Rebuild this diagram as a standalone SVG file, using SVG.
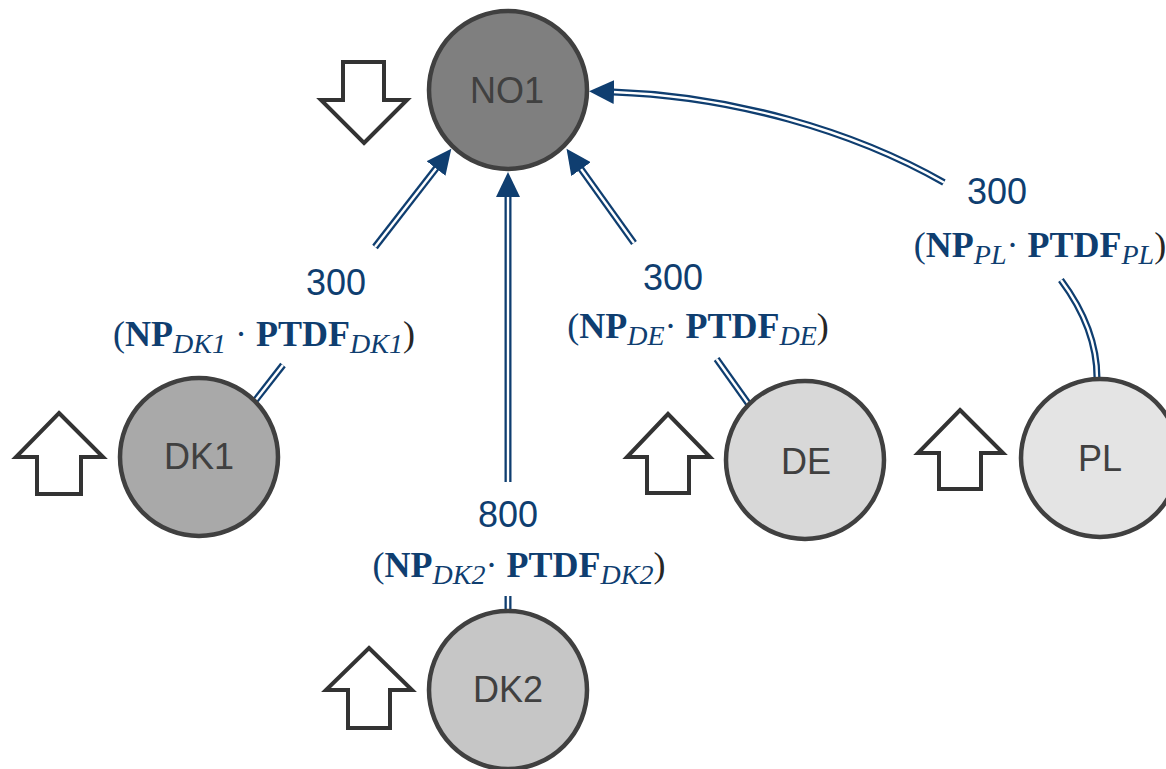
<svg xmlns="http://www.w3.org/2000/svg" width="1166" height="769" viewBox="0 0 1166 769">
  <style>
    .rail { fill: none; stroke: #0f3e70; stroke-width: 7; }
    .gap { fill: none; stroke: #ffffff; stroke-width: 2.4; }
    .node { stroke: #404040; stroke-width: 4.5; }
    .name { font-family: "Liberation Sans", Arial, sans-serif; font-size: 36px; fill: #404040; text-anchor: middle; }
    .num { font-family: "Liberation Sans", Arial, sans-serif; font-size: 36px; fill: #0f3e70; text-anchor: middle; }
    .f { font-family: "Liberation Serif", "Times New Roman", serif; font-size: 36px; fill: #0f3e70; text-anchor: middle; }
    .b { font-weight: bold; }
    .s { font-style: italic; font-size: 28px; }
    .cp { fill: #262626; }
    .blk { fill: #ffffff; stroke: #333333; stroke-width: 4; stroke-linejoin: miter; }
  </style>
  <defs>
    <marker id="ah" markerUnits="userSpaceOnUse" viewBox="0 0 26 24" markerWidth="26" markerHeight="24" refX="1" refY="12" orient="auto">
      <path d="M0,0 L25,12 L0,24 Z" fill="#0f3e70"/>
    </marker>
  </defs>

  <!-- flows towards NO1 -->
  <g id="connectors">
    <g id="e-dk1">
      <path class="rail" d="M244,415 L283,365"/>
      <path class="gap" d="M244,415 L283,365"/>
      <path class="rail" d="M375,247 L436.6,167.7"/>
      <path class="gap" d="M375,247 L436.6,167.7" marker-end="url(#ah)"/>
    </g>
    <g id="e-dk2">
      <path class="rail" d="M508,596 L508,620"/>
      <path class="gap" d="M508,596 L508,620"/>
      <path class="rail" d="M508,482 L508,196"/>
      <path class="gap" d="M508,482 L508,196" marker-end="url(#ah)"/>
    </g>
    <g id="e-de">
      <path class="rail" d="M716.6,359 L760,420"/>
      <path class="gap" d="M716.6,359 L760,420"/>
      <path class="rail" d="M634,243 L580.5,168.3"/>
      <path class="gap" d="M634,243 L580.5,168.3" marker-end="url(#ah)"/>
    </g>
    <g id="e-pl">
      <path class="rail" d="M1060.9,280 C1083.9,310.9 1097,344 1097,378 L1097,392"/>
      <path class="gap" d="M1060.9,280 C1083.9,310.9 1097,344 1097,378 L1097,392"/>
      <path class="rail" d="M943.9,182.5 C852.5,130.5 731.5,96 613,92"/>
      <path class="gap" d="M943.9,182.5 C852.5,130.5 731.5,96 613,92" marker-end="url(#ah)"/>
    </g>
  </g>

  <!-- flow labels -->
  <g id="labels">
    <text class="num" x="336" y="295">300</text>
    <text class="f" x="264" y="346">(<tspan class="b">NP</tspan><tspan class="s" dy="7">DK1</tspan><tspan dy="-7"> · </tspan><tspan class="b">PTDF</tspan><tspan class="s" dy="7">DK1</tspan><tspan class="cp" dy="-7">)</tspan></text>

    <text class="num" x="508" y="527">800</text>
    <text class="f" x="519" y="577">(<tspan class="b">NP</tspan><tspan class="s" dy="7">DK2</tspan><tspan dy="-7">· </tspan><tspan class="b">PTDF</tspan><tspan class="s" dy="7">DK2</tspan><tspan class="cp" dy="-7">)</tspan></text>

    <text class="num" x="673" y="290">300</text>
    <text class="f" x="698" y="338">(<tspan class="b">NP</tspan><tspan class="s" dy="7">DE</tspan><tspan dy="-7">· </tspan><tspan class="b">PTDF</tspan><tspan class="s" dy="7">DE</tspan><tspan class="cp" dy="-7">)</tspan></text>

    <text class="num" x="997" y="204">300</text>
    <text class="f" x="1040" y="257">(<tspan class="b">NP</tspan><tspan class="s" dy="7">PL</tspan><tspan dy="-7">· </tspan><tspan class="b">PTDF</tspan><tspan class="s" dy="7">PL</tspan><tspan class="cp" dy="-7">)</tspan></text>
  </g>

  <!-- bidding zones -->
  <g id="NO1">
    <circle class="node" cx="508" cy="90" r="79" fill="#7f7f7f"/>
    <text class="name" x="507" y="103">NO1</text>
  </g>
  <g id="DK1">
    <circle class="node" cx="199" cy="457" r="79" fill="#a9a9a9"/>
    <text class="name" x="199" y="469">DK1</text>
  </g>
  <g id="DK2">
    <circle class="node" cx="508" cy="690" r="79" fill="#c6c6c6"/>
    <text class="name" x="508" y="702">DK2</text>
  </g>
  <g id="DE">
    <circle class="node" cx="805" cy="460" r="79" fill="#d8d8d8"/>
    <text class="name" x="806" y="474">DE</text>
  </g>
  <g id="PL">
    <circle class="node" cx="1100" cy="458" r="79" fill="#e4e4e4"/>
    <text class="name" x="1100" y="471">PL</text>
  </g>

  <!-- import / export block arrows -->
  <g id="dir-NO1"><path class="blk" d="M364,143 L407,100 L384,100 L384,62 L343,62 L343,100 L321,100 Z"/></g>
  <g id="dir-DK1"><path class="blk" d="M59,413 L103,457 L81,457 L81,494 L37,494 L37,457 L16,457 Z"/></g>
  <g id="dir-DK2"><path class="blk" d="M369,648 L412,690 L390,690 L390,728 L348,728 L348,690 L326,690 Z"/></g>
  <g id="dir-DE"><path class="blk" d="M668,414 L710,457 L689,457 L689,493 L647,493 L647,457 L627,457 Z"/></g>
  <g id="dir-PL"><path class="blk" d="M960,410 L1003,453 L981,453 L981,489 L939,489 L939,453 L918,453 Z"/></g>
</svg>
